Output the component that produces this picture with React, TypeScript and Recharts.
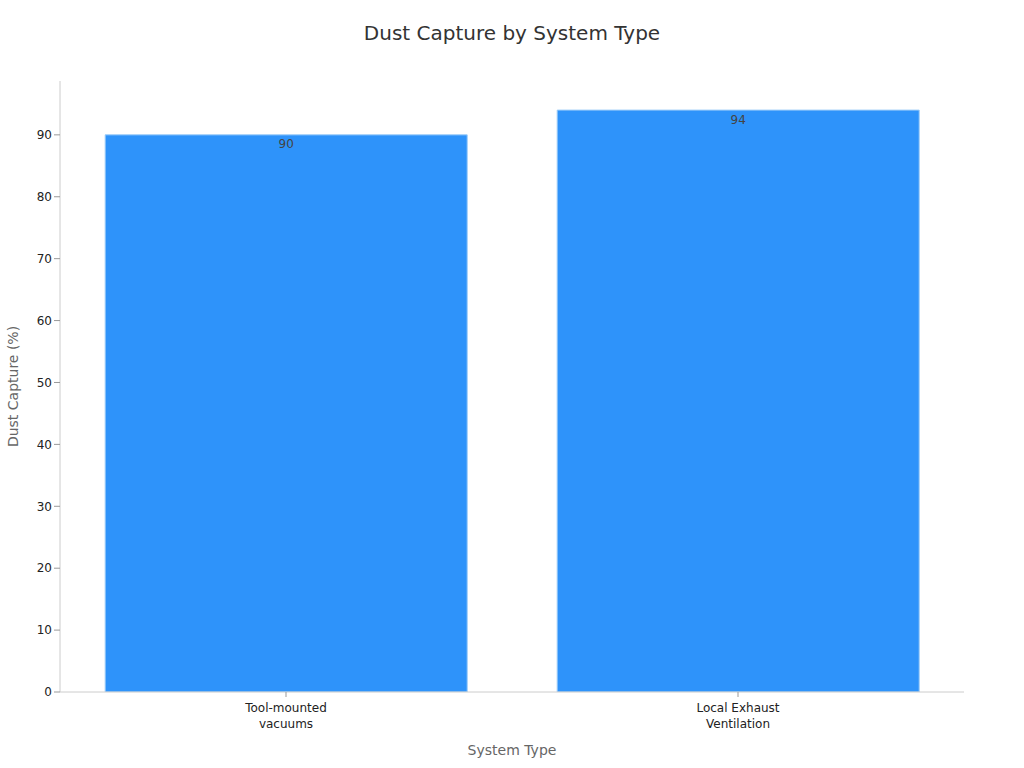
import React from 'react';
import { BarChart, Bar, XAxis, YAxis, LabelList } from 'recharts';

const categories = ['Tool-mounted\nvacuums', 'Local Exhaust\nVentilation'];
const dustCapture = [90, 94];
const yTicks = [0, 10, 20, 30, 40, 50, 60, 70, 80, 90];

const data = categories.map((c, i) => ({ name: c, value: dustCapture[i] }));

const FONT = '"DejaVu Sans", sans-serif';

const MultiLineTick = (props: any) => {
  const { x, y, payload } = props;
  const lines = String(payload.value).split('\n');
  return (
    <g transform={`translate(${x},${y})`}>
      <text textAnchor="middle" fill="#222" fontSize={12} fontFamily={FONT}>
        {lines.map((l, i) => (
          <tspan key={i} x={0} dy={i === 0 ? 13 : 16}>{l}</tspan>
        ))}
      </text>
    </g>
  );
};

export default function App() {
  return (
    <div style={{ position: 'absolute', left: 0, top: 0, width: 1024, height: 768, background: '#fff' }}>
      <div style={{ position: 'absolute', top: 21, left: 0, width: 1024, textAlign: 'center', fontFamily: FONT, fontSize: 20, color: '#333' }}>
        Dust Capture by System Type
      </div>
      <BarChart width={1024} height={768} data={data} margin={{ top: 81, right: 60, left: 1, bottom: 0 }} barCategoryGap="10%">
        <XAxis
          dataKey="name"
          height={76}
          tick={<MultiLineTick />}
          tickLine={{ stroke: '#999' }}
          axisLine={{ stroke: '#ccc' }}
          tickSize={5}
          interval={0}
          label={{ value: 'System Type', position: 'insideBottom', offset: 13, fill: '#666', fontSize: 14, fontFamily: FONT }}
        />
        <YAxis
          width={59}
          domain={[0, 98.7]}
          ticks={yTicks}
          allowDataOverflow
          tick={{ fill: '#222', fontSize: 12, fontFamily: FONT }}
          tickLine={{ stroke: '#999' }}
          axisLine={{ stroke: '#ccc' }}
          tickSize={6}
          label={{ value: 'Dust Capture (%)', angle: -90, position: 'insideLeft', offset: 12, fill: '#666', fontSize: 14, fontFamily: FONT, style: { textAnchor: 'middle' } }}
        />
        <Bar dataKey="value" fill="#2E93FA" stroke="#9ACBF8" strokeWidth={1} isAnimationActive={false}>
          <LabelList dataKey="value" position="insideTop" offset={5} fill="#444" fontSize={12} fontFamily={FONT} />
        </Bar>
      </BarChart>
    </div>
  );
}
